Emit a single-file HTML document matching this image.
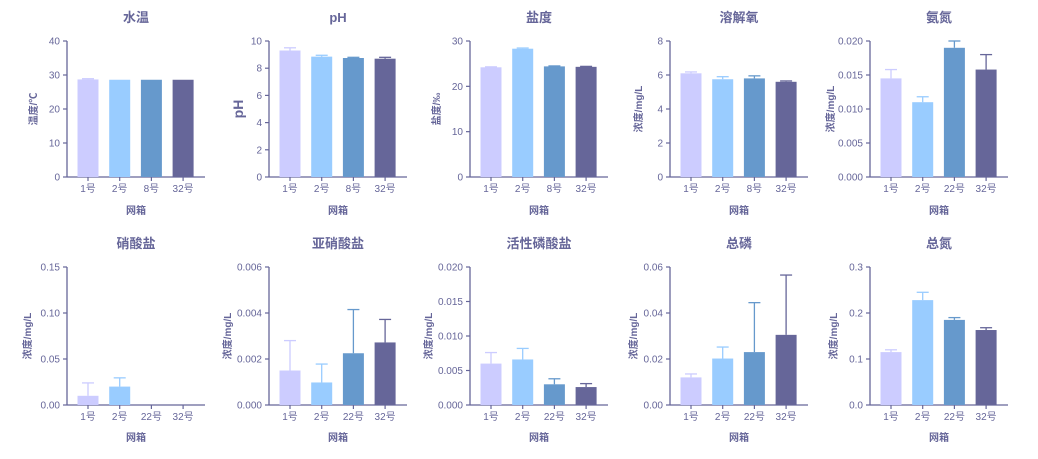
<!DOCTYPE html>
<html><head><meta charset="utf-8"><style>
body{margin:0;background:#fff;width:1038px;height:454px;overflow:hidden}
svg text{font-family:"Liberation Sans","Noto Sans CJK SC",sans-serif;fill:#666699}
</style></head><body>
<svg id="c" width="1038" height="454" xmlns="http://www.w3.org/2000/svg"></svg>
<script>
const titles=["水温","pH","盐度","溶解氧","氨氮","硝酸盐","亚硝酸盐","活性磷酸盐","总磷","总氮"];
const yTitles=["温度/℃","pH","盐度/‰","浓度/mg/L","浓度/mg/L","浓度/mg/L","浓度/mg/L","浓度/mg/L","浓度/mg/L","浓度/mg/L"];
const catsA=["1号","2号","8号","32号"];
const catsB=["1号","2号","22号","32号"];
const yMax=[40,10,30,8,0.020,0.15,0.006,0.020,0.06,0.3];
const yStep=[10,2,10,2,0.005,0.05,0.002,0.005,0.02,0.1];
const yDec=[0,0,0,0,3,2,3,3,2,1];
const means=[[28.7,28.6,28.6,28.6],[9.3,8.85,8.75,8.7],[24.2,28.3,24.4,24.3],[6.1,5.75,5.8,5.6],[0.0145,0.011,0.019,0.0158],[0.01,0.02,0,0],[0.0015,0.00098,0.00225,0.00272],[0.006,0.0066,0.003,0.0026],[0.012,0.0202,0.023,0.0305],[0.115,0.228,0.185,0.163]];
const errs=[[0.2,0,0,0],[0.2,0.1,0.05,0.1],[0.1,0.15,0.1,0.1],[0.08,0.15,0.15,0.05],[0.0013,0.0008,0.001,0.0022],[0.014,0.0095,0,0],[0.0013,0.0008,0.0019,0.001],[0.0016,0.0016,0.0008,0.0005],[0.0015,0.005,0.0215,0.026],[0.005,0.017,0.005,0.005]];
const colors=["#ccccff","#99ccff","#6699cc","#666699"];
const svg=document.getElementById('c');const NS="http://www.w3.org/2000/svg";
function mk(t,a,p){const e=document.createElementNS(NS,t);for(const k in a)e.setAttribute(k,a[k]);(p||svg).appendChild(e);return e;}
const axc="#666699";
for(let i=0;i<10;i++){
 const row=Math.floor(i/5),col=i%5;
 const x0=[67,269,470,670,870][col];
 const yT=row?267:41, yB=row?405:177;
 const g=mk('g',{});
 
 
 const ys=v=>yB-(v/yMax[i])*(yB-yT);
 const cats=(i<4)?catsA:catsB;
 const t=mk('text',{x:x0+69,y:row?248:22,'text-anchor':'middle','font-size':13,'font-weight':'bold'},g);t.textContent=titles[i];
 
 const yt=mk('text',{x:0,y:0,'text-anchor':'middle','font-size':i==1?14:10,'font-weight':'bold',transform:`translate(${x0-(i==1?26:[0,0,30,28,36,36,38,38,33,33][i]||32)},${(yT+yB)/2}) rotate(-90)`},g);
 if(i==0)yt.setAttribute('transform',`translate(${x0-30},${(yT+yB)/2}) rotate(-90)`);
 yt.textContent=yTitles[i];
 
 const xt=mk('text',{x:x0+69,y:row?441:214,'text-anchor':'middle','font-size':10,'font-weight':'bold'},g);xt.textContent="网箱";
 
 mk('line',{x1:x0,y1:yT,x2:x0,y2:yB,stroke:axc,'stroke-width':1.3},g);
 mk('line',{x1:x0,y1:yB,x2:x0+138,y2:yB,stroke:axc,'stroke-width':1.3},g);
 const n=Math.round(yMax[i]/yStep[i]);
 for(let k=0;k<=n;k++){const v=k*yStep[i],y=ys(v);
  mk('line',{x1:x0-4,y1:y,x2:x0,y2:y,stroke:axc,'stroke-width':1.2},g);
  const tl=mk('text',{x:x0-7,y:y+3.5,'text-anchor':'end','font-size':10},g);tl.textContent=v.toFixed(yDec[i]);
  }
 for(let j=0;j<4;j++){
  const cx=x0+21+j*31.7;
  const m=means[i][j],e=errs[i][j];
  if(m>0){const b=mk('rect',{x:cx-10.5,y:ys(m),width:21,height:yB-ys(m),fill:colors[j]},g);
   }
  if(e>0){const ye=ys(m+e);
   mk('line',{x1:cx,y1:ys(m),x2:cx,y2:ye,stroke:colors[j],'stroke-width':1.3},g);
   mk('line',{x1:cx-6,y1:ye,x2:cx+6,y2:ye,stroke:colors[j],'stroke-width':1.3},g);}
  mk('line',{x1:cx,y1:yB,x2:cx,y2:yB+4,stroke:axc,'stroke-width':1.2},g);
  const cl=mk('text',{x:cx,y:yB+15,'text-anchor':'middle','font-size':10},g);cl.textContent=cats[j];
  
 }
}
</script>
</body></html>
